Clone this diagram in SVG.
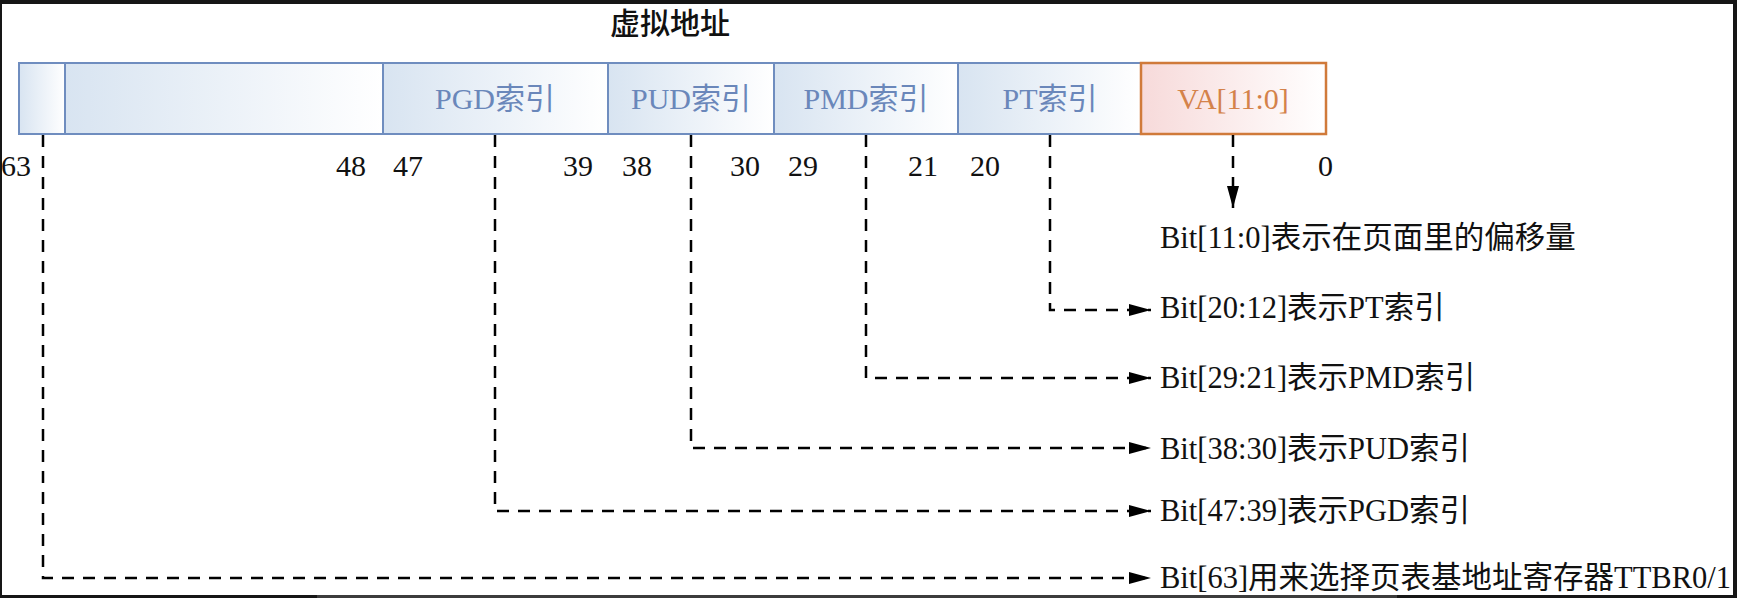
<svg xmlns="http://www.w3.org/2000/svg" width="1737" height="598" viewBox="0 0 1737 598">
<defs>
<linearGradient id="gBlue" x1="0" y1="0" x2="1" y2="0"><stop offset="0" stop-color="#d8e4f1"/><stop offset="1" stop-color="#ffffff"/></linearGradient>
<linearGradient id="gRed" x1="0" y1="0" x2="1" y2="0"><stop offset="0" stop-color="#f7dada"/><stop offset="1" stop-color="#ffffff"/></linearGradient>
<marker id="arr" viewBox="0 0 22 12" refX="22" refY="6" markerWidth="22" markerHeight="12" markerUnits="userSpaceOnUse" orient="auto"><path d="M0,0 L22,6 L0,12 Z" fill="#000"/></marker>
</defs>
<style>
.cell{fill:url(#gBlue);stroke:#6f8dbf;stroke-width:2}
.va{fill:url(#gRed);stroke:#d07a3a;stroke-width:2.5}
.lbl{font-family:"Liberation Serif","Noto Sans CJK SC",serif;font-size:30px;fill:#6a87ba;text-anchor:middle}
.valbl{font-family:"Liberation Serif","Noto Sans CJK SC",serif;font-size:30px;fill:#d4824a;text-anchor:middle}
.num{font-family:"Liberation Serif",serif;font-size:30px;fill:#111}
.end{text-anchor:end}
.desc{font-family:"Liberation Serif","Noto Sans CJK SC",serif;font-size:30.5px;fill:#111}
.title{font-family:"Noto Sans CJK SC",sans-serif;font-size:30px;fill:#111;font-weight:500}
.conn{fill:none;stroke:#000;stroke-width:2.5;stroke-dasharray:12 9}
</style>
<rect width="1737" height="598" fill="#ffffff"/>
<text class="title" x="610" y="34">虚拟地址</text>
<g id="bit63"><rect class="cell" x="19" y="63" width="46" height="71"/></g>
<g id="reserved"><rect class="cell" x="65" y="63" width="318" height="71"/></g>
<g id="pgd"><rect class="cell" x="383" y="63" width="225" height="71"/><text class="lbl" x="495" y="109">PGD索引</text></g>
<g id="pud"><rect class="cell" x="608" y="63" width="166" height="71"/><text class="lbl" x="691" y="109">PUD索引</text></g>
<g id="pmd"><rect class="cell" x="774" y="63" width="184" height="71"/><text class="lbl" x="866" y="109">PMD索引</text></g>
<g id="pt"><rect class="cell" x="958" y="63" width="183" height="71"/><text class="lbl" x="1050" y="109">PT索引</text></g>
<g id="va"><rect class="va" x="1141" y="63" width="185" height="71"/><text class="valbl" x="1233" y="109">VA[11:0]</text></g>
<g id="numbers">
<text class="num end" x="31" y="176">63</text>
<text class="num end" x="366" y="176">48</text>
<text class="num" x="393" y="176">47</text>
<text class="num end" x="593" y="176">39</text>
<text class="num" x="622" y="176">38</text>
<text class="num end" x="760" y="176">30</text>
<text class="num" x="788" y="176">29</text>
<text class="num end" x="938" y="176">21</text>
<text class="num" x="970" y="176">20</text>
<text class="num" x="1318" y="176">0</text>
</g>
<g id="connectors">
<path class="conn" d="M1233,135 V208" marker-end="url(#arr)"/>
<path class="conn" d="M1050,135 V310 H1151" marker-end="url(#arr)"/>
<path class="conn" d="M866,135 V378 H1151" marker-end="url(#arr)"/>
<path class="conn" d="M691,135 V448 H1151" marker-end="url(#arr)"/>
<path class="conn" d="M495,135 V511 H1151" marker-end="url(#arr)"/>
<path class="conn" d="M43,135 V578 H1151" marker-end="url(#arr)"/>
</g>
<g id="descriptions">
<text class="desc" x="1160" y="248">Bit[11:0]表示在页面里的偏移量</text>
<text class="desc" x="1160" y="318">Bit[20:12]表示PT索引</text>
<text class="desc" x="1160" y="388">Bit[29:21]表示PMD索引</text>
<text class="desc" x="1160" y="459">Bit[38:30]表示PUD索引</text>
<text class="desc" x="1160" y="521">Bit[47:39]表示PGD索引</text>
<text class="desc" x="1160" y="588">Bit[63]用来选择页表基地址寄存器TTBR0/1</text>
</g>
<path d="M0,0 H1737 V598 H0 Z M2,4 V595 H1733 V4 Z" fill="#161616" fill-rule="evenodd"/>
<rect x="317" y="595" width="1080" height="3" fill="#3c3c3c"/>
</svg>
